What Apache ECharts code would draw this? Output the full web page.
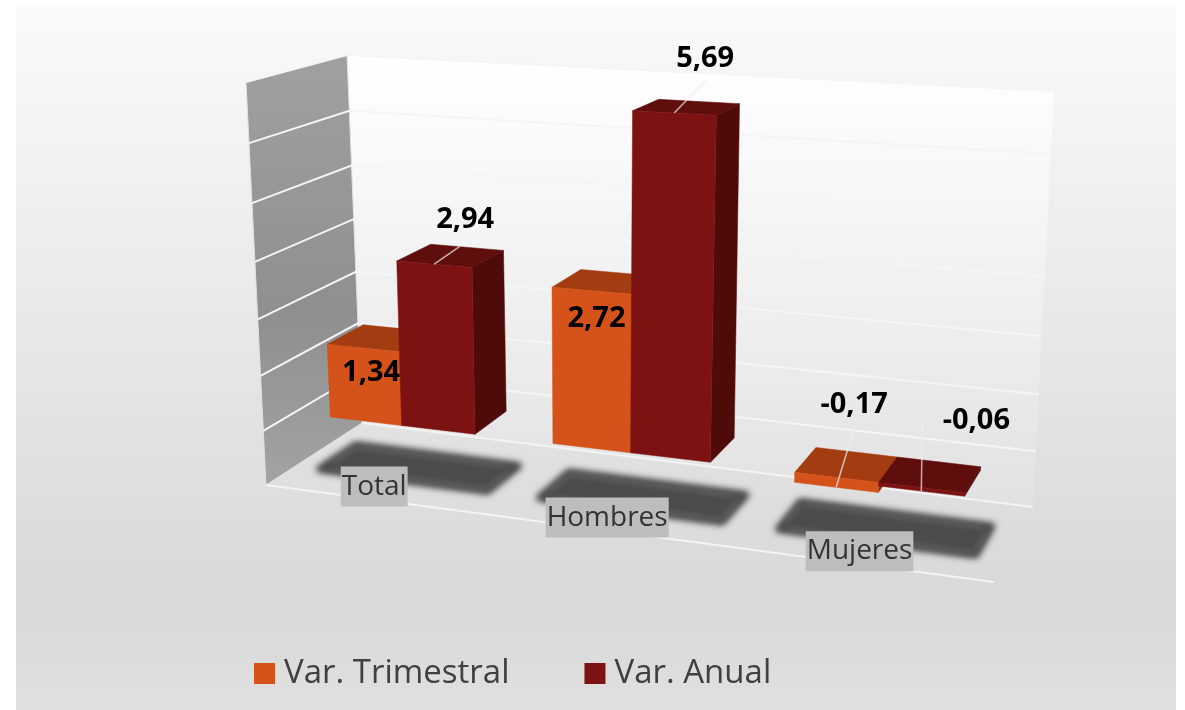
<!DOCTYPE html>
<html><head><meta charset="utf-8">
<script src="https://cdn.jsdelivr.net/npm/echarts@6/dist/echarts.min.js"></script>
<style>html,body{margin:0;padding:0;background:#fff}#c{width:1185px;height:710px}</style>
</head><body><div id="c"></div>
<script>
const categories = ['Total', 'Hombres', 'Mujeres'];
const seriesNames = ['Var. Trimestral', 'Var. Anual'];
const varTrimestral = [1.34, 2.72, -0.17];
const varAnual = [2.94, 5.69, -0.06];
const valueTicks = [-1, 0, 1, 2, 3, 4, 5, 6];

const FONT = '"Open Sans","Noto Sans",sans-serif';
const FACES = [
  {front: '#D5521A', top: '#A33C11', side: '#8A300C'},
  {front: '#7D1212', top: '#5F0D0D', side: '#4F0A0A'}
];
// camera: screen corners of the 3D plot box
const BOX = {
  fl: [266, 485], fr: [994, 582], bl: [362, 423], br: [1033, 507],
  tfl: [246, 82], tfr: [1022, 120], tbl: [347, 55], tbr: [1054, 91]
};
const lerp = (a, b, k) => [a[0] + (b[0] - a[0]) * k, a[1] + (b[1] - a[1]) * k];
function project(t, v, w) {
  const u = t * (0.88 + 0.12 * t);
  const h = v * (0.928 + 0.072 * v);
  const bot = lerp(lerp(BOX.fl, BOX.fr, u), lerp(BOX.bl, BOX.br, u), w);
  const top = lerp(lerp(BOX.tfl, BOX.tfr, u), lerp(BOX.tbl, BOX.tbr, u), w);
  return lerp(bot, top, h);
}
const BAR_FRONT = 0.32, BAR_BACK = 0.7, BAR_BAND = 0.33;
function norm(api, params, cat, val) {
  const r = params.coordSys, p = api.coord([cat, val]);
  return {t: (p[0] - r.x) / r.width, v: (r.y + r.height - p[1]) / r.height, bw: api.size([1, 0])[0] * BAR_BAND / r.width};
}
const poly = (points, fill, z2) => ({type: 'polygon', shape: {points}, style: {fill, stroke: fill, lineWidth: 0.5}, z2: z2 || 0});

// label placement relative to the top-front centre of each bar (series, category)
const labelOffset = [[[8, 25], [5, 28], [18, -83]], [[31, -44], [31, -54], [55, -70]]];
const leaderPath = [[null, null, [[0, 0], [19, -62]]], [[[0, 0], [26, -18]], [[0, 0], [32, -33]], [[0, 0], [1, -72], [14, -72]]]];

function renderBar(si) {
  return function (params, api) {
    const cat = api.value(0), val = api.value(1);
    const a = norm(api, params, cat, val), z = norm(api, params, cat, 0);
    const t0 = si === 0 ? a.t - a.bw : a.t, t1 = si === 0 ? a.t : a.t + a.bw;
    const hi = Math.max(a.v, z.v), lo = Math.min(a.v, z.v);
    const f = FACES[si], ch = [];
    ch.push(poly([project(t1, lo, BAR_FRONT), project(t1, lo, BAR_BACK), project(t1, hi, BAR_BACK), project(t1, hi, BAR_FRONT)], f.side));
    ch.push(poly([project(t0, hi, BAR_FRONT), project(t0, hi, BAR_BACK), project(t1, hi, BAR_BACK), project(t1, hi, BAR_FRONT)], f.top));
    ch.push(poly([project(t0, lo, BAR_FRONT), project(t1, lo, BAR_FRONT), project(t1, hi, BAR_FRONT), project(t0, hi, BAR_FRONT)], f.front));
    const anchor = project((t0 + t1) / 2, a.v, BAR_FRONT);
    const path = leaderPath[si][cat];
    if (path) ch.push({type: 'polyline', shape: {points: path.map(o => [anchor[0] + o[0], anchor[1] + o[1]])},
      style: {fill: null, stroke: 'rgba(238,238,238,0.72)', lineWidth: 1.5}, z2: 90});
    const off = labelOffset[si][cat];
    ch.push({type: 'text', z2: 100, style: {text: val.toFixed(2).replace('.', ','), x: anchor[0] + off[0], y: anchor[1] + off[1],
      align: 'center', verticalAlign: 'middle', fill: '#000', font: 'bold 29px ' + FONT}});
    return {type: 'group', children: ch};
  };
}
function renderWalls(params, api) {
  const wall = [project(0, 0, 0), project(0, 0, 1), project(0, 1, 1), project(0, 1, 0)];
  const back = [project(0, 0, 1), project(1, 0, 1), project(1, 1, 1), project(0, 1, 1)];
  const g = (a, b, c) => new echarts.graphic.LinearGradient(0, 0, 0, 1, [{offset: 0, color: a}, {offset: 0.6, color: b}, {offset: 1, color: c}]);
  return {type: 'group', children: [
    {type: 'polygon', shape: {points: back}, style: {fill: g('#ffffff', '#eeeeee', '#e1e1e1')}},
    {type: 'polygon', shape: {points: wall}, style: {fill: g('#a0a0a0', '#8f8f8f', '#a3a3a3'), stroke: '#e0e0e0', lineWidth: 1}},
    {type: 'polyline', shape: {points: [project(0, 0, 0), project(1, 0, 0)]}, style: {fill: null, stroke: '#f3f3f3', lineWidth: 2}},
    {type: 'polyline', shape: {points: [project(0, 0, 1), project(1, 0, 1)]}, style: {fill: null, stroke: '#f3f3f3', lineWidth: 2}}
  ]};
}
function renderGrid(params, api) {
  const n = norm(api, params, 0, api.value(0));
  return {type: 'polyline', shape: {points: [project(0, n.v, 0), project(0, n.v, 1), project(1, n.v, 1)]},
    style: {fill: null, stroke: '#f5f5f5', lineWidth: 2}};
}
// only the blurred shadow of the footprint is visible: the shape itself sits off-canvas
const SHADOW_SHIFT = 3000;
function renderShadow(params, api) {
  const n = norm(api, params, api.value(0), 0), pad = 0.018, t0 = n.t - n.bw - pad, t1 = n.t + n.bw + pad;
  const pts = [project(t0, 0, 0.31), project(t1, 0, 0.31), project(t1, 0, 0.69), project(t0, 0, 0.69)];
  const c = '#4c4c4c';
  return {type: 'polygon', x: -SHADOW_SHIFT, shape: {points: pts},
    style: {fill: c, stroke: c, lineWidth: 8, lineJoin: 'round', shadowColor: c, shadowBlur: 6, shadowOffsetX: SHADOW_SHIFT}};
}
function renderCategory(params, api) {
  const i = api.value(0), n = norm(api, params, i, 0), p = project(n.t, 0, 0);
  return {type: 'text', z2: 50, style: {text: categories[i], x: p[0] - 1, y: p[1] - 13, align: 'center', verticalAlign: 'middle',
    fill: '#333333', font: '28px ' + FONT, backgroundColor: '#bdbdbd', padding: [7, 1, 5, 1]}};
}
const idx = categories.map((c, i) => i);
const chart = echarts.init(document.getElementById('c'));
chart.setOption({
  animation: false,
  graphic: [{type: 'rect', z: -10, silent: true, shape: {x: 16, y: 5, width: 1160, height: 705},
    style: {fill: new echarts.graphic.LinearGradient(0, 0, 0, 1, [{offset: 0, color: '#fafafa'}, {offset: 0.85, color: '#d8d8d8'}, {offset: 1, color: '#e0e0e0'}])}}],
  legend: {data: seriesNames, left: 249, top: 652, itemWidth: 21, itemHeight: 21, itemGap: 75, icon: 'rect',
    textStyle: {color: '#404040', fontSize: 33, fontFamily: FONT, padding: [0, 0, 0, 4]}},
  grid: {left: 266, top: 55, width: 788, height: 527},
  xAxis: {type: 'category', data: categories, show: false},
  yAxis: {type: 'value', min: -1, max: 6, interval: 1, show: false},
  series: [
    {type: 'custom', name: 'walls', z: 1, silent: true, data: [[0]], renderItem: renderWalls},
    {type: 'custom', name: 'grid', z: 1, silent: true, data: valueTicks.slice(1).map(v => [v]), renderItem: renderGrid, encode: {y: 0}},
    {type: 'custom', name: 'shadow', z: 1, silent: true, data: idx.map(i => [i]), renderItem: renderShadow, encode: {x: 0}},
    {type: 'custom', name: seriesNames[0], z: 3, itemStyle: {color: FACES[0].front}, data: varTrimestral.map((v, i) => [i, v]), renderItem: renderBar(0), encode: {x: 0, y: 1}},
    {type: 'custom', name: seriesNames[1], z: 3, itemStyle: {color: FACES[1].front}, data: varAnual.map((v, i) => [i, v]), renderItem: renderBar(1), encode: {x: 0, y: 1}},
    {type: 'custom', name: 'categoryLabels', z: 4, silent: true, data: idx.map(i => [i]), renderItem: renderCategory, encode: {x: 0}}
  ]
});
</script></body></html>
